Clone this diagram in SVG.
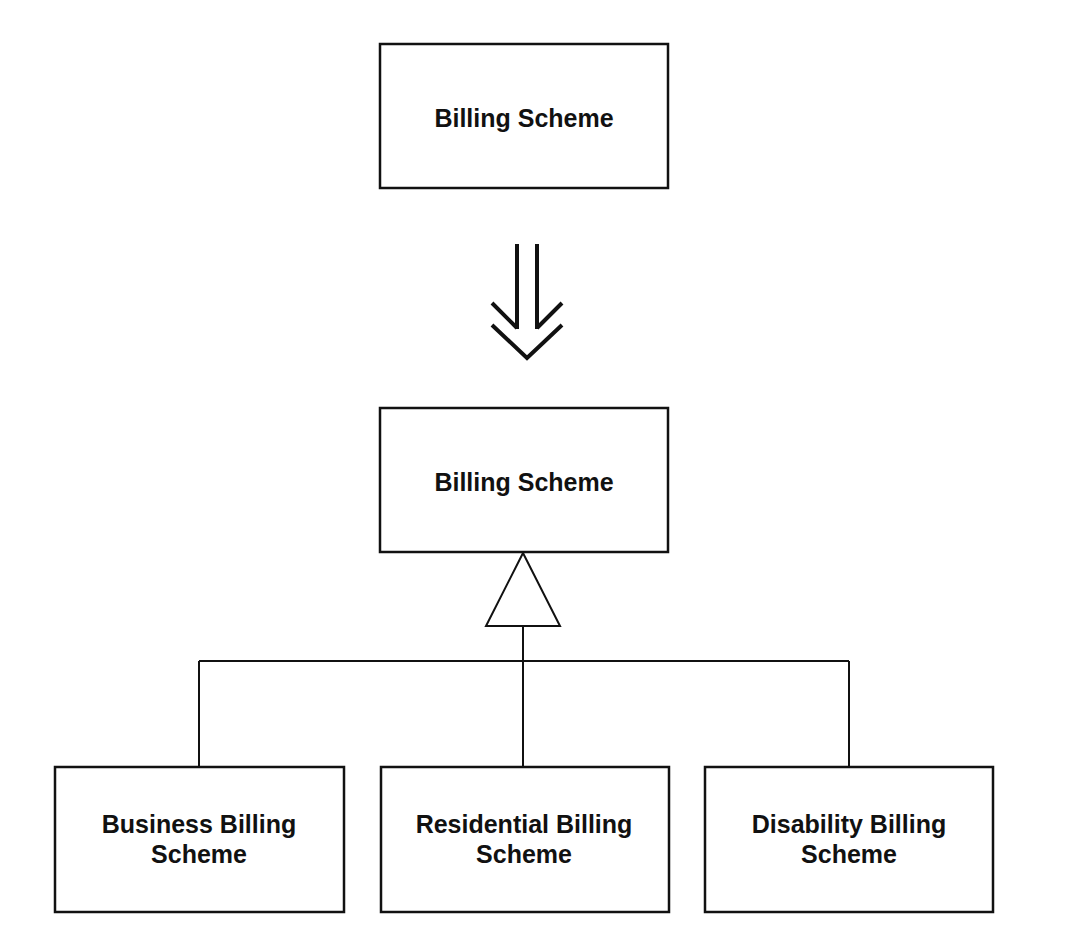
<svg xmlns="http://www.w3.org/2000/svg" width="1066" height="930" viewBox="0 0 1066 930">
<style>
.box{fill:#fff;stroke:#111;stroke-width:2.5}
.lbl{font-family:"Liberation Sans",Arial,sans-serif;font-weight:bold;font-size:25px;fill:#111;text-anchor:middle}
.ln{fill:none;stroke:#111;stroke-width:2}
.arr{fill:none;stroke:#111;stroke-width:4}
</style>
<rect width="1066" height="930" fill="#fff"/>
<g id="billing-scheme-top">
<rect class="box" x="380" y="44" width="288" height="144"/>
<text class="lbl" x="524" y="127">Billing Scheme</text>
</g>
<g id="refinement-arrow">
<path class="arr" d="M517 244 V329 M537 244 V329 M492 303 L517 328 M562 303 L537 328 M492 325 L527 358 L562 325"/>
</g>
<g id="billing-scheme">
<rect class="box" x="380" y="408" width="288" height="144"/>
<text class="lbl" x="524" y="491">Billing Scheme</text>
</g>
<g id="connectors">
<path class="ln" d="M523 626 V767 M199 661 H849 M199 661 V767 M849 661 V767"/>
<polygon class="ln" points="523,553 486,626 560,626"/>
</g>
<g id="business">
<rect class="box" x="55" y="767" width="289" height="145"/>
<text class="lbl" x="199" y="833">Business Billing</text>
<text class="lbl" x="199" y="863">Scheme</text>
</g>
<g id="residential">
<rect class="box" x="381" y="767" width="288" height="145"/>
<text class="lbl" x="524" y="833">Residential Billing</text>
<text class="lbl" x="524" y="863">Scheme</text>
</g>
<g id="disability">
<rect class="box" x="705" y="767" width="288" height="145"/>
<text class="lbl" x="849" y="833">Disability Billing</text>
<text class="lbl" x="849" y="863">Scheme</text>
</g>
</svg>
